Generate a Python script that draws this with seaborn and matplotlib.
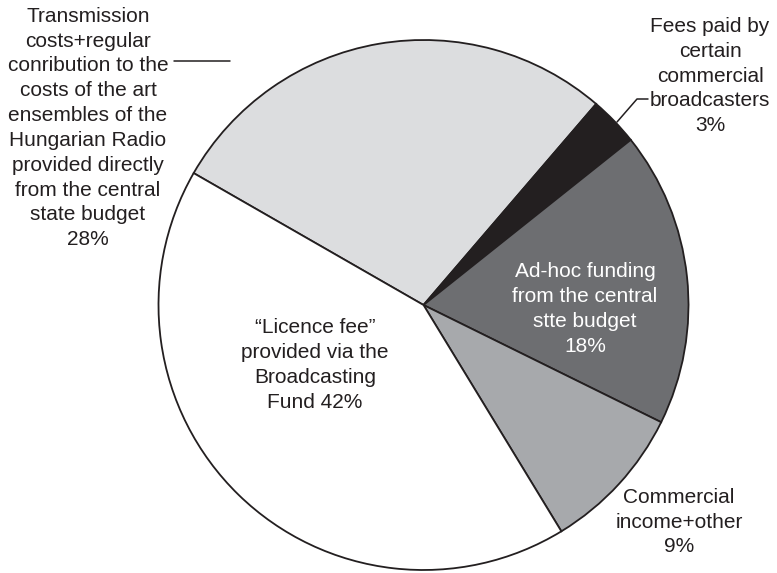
import matplotlib
matplotlib.use("Agg")
import matplotlib.pyplot as plt
import seaborn as sns
from matplotlib.lines import Line2D

# Funding sources (share of total, %)
labels = [
    "Transmission\ncosts+regular\nconribution to the\ncosts of the art\nensembles of the\nHungarian Radio\nprovided directly\nfrom the central\nstate budget\n28%",
    "Fees paid by\ncertain\ncommercial\nbroadcasters\n3%",
    "Ad-hoc funding\nfrom the central\nstte budget\n18%",
    "Commercial\nincome+other\n9%",
    "\u201cLicence fee\u201d\nprovided via the\nBroadcasting\nFund 42%",
]
shares = [28, 3, 18, 9, 42]
slice_colors = ["#dcdddf", "#231f20", "#6d6e71", "#a7a9ac", "#ffffff"]

sns.set_theme(style="white")
plt.rcParams["font.family"] = ["Liberation Sans", "DejaVu Sans"]

W, H = 777, 573
fig = plt.figure(figsize=(W / 100, H / 100), dpi=100)
fig.patch.set_facecolor("white")

# pie occupies a 530 px square centred at (423.5, 305)
cx, cy, r = 423.5, 305.0, 265.0
ax = fig.add_axes([(cx - r) / W, (H - cy - r) / H, 2 * r / W, 2 * r / H])
ax.pie(
    shares,
    colors=slice_colors,
    startangle=150.15,
    counterclock=False,
    radius=1.0,
    wedgeprops=dict(edgecolor="#231f20", linewidth=1.3),
)
ax.set_xlim(-1, 1)
ax.set_ylim(-1, 1)
ax.set_aspect("equal")
ax.axis("off")

ink = "#231f20"
fs = 15.0
ls = 1.39


def fx(px):
    return px / W


def fy(py):
    return 1 - py / H


def label(px, py, text, color=ink):
    fig.text(fx(px), fy(py), text, ha="center", va="center", fontsize=fs,
             color=color, linespacing=ls)


label(88, 128, labels[0])
label(710, 76, labels[1])
label(585, 309, labels[2], color="white")
label(679, 522, labels[3])
label(315, 365, labels[4])

# leader lines
fig.add_artist(Line2D([fx(174), fx(230)], [fy(61), fy(61)], color=ink, lw=1.1))
fig.add_artist(Line2D([fx(617), fx(637), fx(648)], [fy(122), fy(99), fy(99)],
                      color=ink, lw=1.1))

fig.savefig("out.png", dpi=100, facecolor="white")
